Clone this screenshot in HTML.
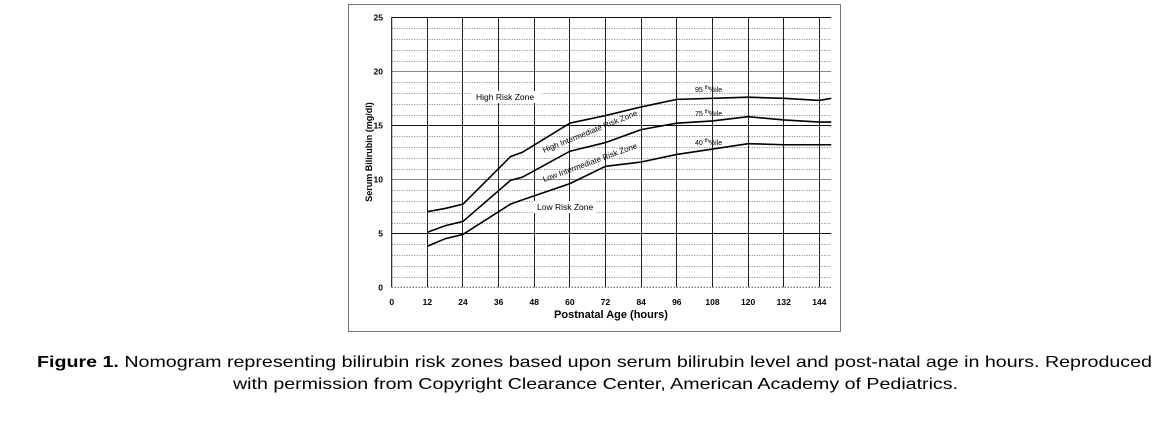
<!DOCTYPE html>
<html><head><meta charset="utf-8"><style>
html,body{margin:0;padding:0;background:#fff;width:1162px;height:425px;overflow:hidden}
svg{display:block}
</style></head><body>
<svg id="s" width="1162" height="425" xmlns="http://www.w3.org/2000/svg" font-family="Liberation Sans, Arial, sans-serif">
<rect x="0" y="0" width="1162" height="425" fill="#fff"/>
<rect x="348.5" y="4.5" width="492" height="327" fill="none" stroke="#777" stroke-width="1"/>
<g id="grid"></g>
<rect x="472" y="91" width="70" height="12" fill="#fff"/>
<rect x="534" y="201" width="62" height="12" fill="#fff"/>
<g id="lines" fill="none" stroke="#000" stroke-width="1.6"></g>
<g font-size="8.5" fill="#000">
<text x="476" y="100">High Risk Zone</text>
<text x="537" y="210">Low Risk Zone</text>
<text x="0" y="0" transform="translate(544,153) rotate(-22)" font-size="8">High Intermediate Risk Zone</text>
<text x="0" y="0" transform="translate(544,182) rotate(-20)" font-size="8">Low Intermediate Risk Zone</text>
<text x="695" y="92" font-size="7">95 <tspan font-size="5" dy="-3">th</tspan><tspan dy="3">%ile</tspan></text>
<text x="695" y="116" font-size="7">75 <tspan font-size="5" dy="-3">th</tspan><tspan dy="3">%ile</tspan></text>
<text x="695" y="145" font-size="7">40 <tspan font-size="5" dy="-3">th</tspan><tspan dy="3">%ile</tspan></text>
</g>
<g id="ticks" font-size="8.5" font-weight="bold" fill="#000"></g>
<text x="611" y="318" font-size="11" font-weight="bold" text-anchor="middle">Postnatal Age (hours)</text>
<text transform="translate(372,152) rotate(-90)" font-size="9" font-weight="bold" text-anchor="middle">Serum Bilirubin (mg/dl)</text>
<text x="37" y="367" font-size="16" textLength="1115" lengthAdjust="spacingAndGlyphs"><tspan font-weight="bold">Figure 1.</tspan> Nomogram representing bilirubin risk zones based upon serum bilirubin level and post-natal age in hours. Reproduced</text>
<text x="233" y="389" font-size="16" textLength="725" lengthAdjust="spacingAndGlyphs">with permission from Copyright Clearance Center, American Academy of Pediatrics.</text>
</svg>
<script>
var X=function(h){return 391.7+h*2.97},Y=function(v){return 287.3-v*10.8};
var ns="http://www.w3.org/2000/svg",g=document.getElementById('grid'),t=document.getElementById('ticks'),L=document.getElementById('lines');
function el(p,tag,a,txt){var e=document.createElementNS(ns,tag);for(var k in a)e.setAttribute(k,a[k]);if(txt!=null)e.textContent=txt;p.appendChild(e);return e}
var x0=X(0),x1=X(148);
for(var v=1;v<=25;v++){var y=Y(v)+0.5|0;y+=0.5;
 if(v%5==0) el(g,'line',{x1:x0,x2:x1,y1:y,y2:y,stroke:(v%10==5)?'#111':'#888','stroke-width':1});
 else el(g,'line',{x1:x0,x2:x1,y1:y,y2:y,stroke:'#555','stroke-width':0.8,'stroke-dasharray':'1,1.5'});}
for(var h=12;h<=144;h+=12){var x=(X(h)|0)+0.5;el(g,'line',{x1:x,x2:x,y1:Y(25),y2:Y(0),stroke:'#222','stroke-width':1});}
el(g,'line',{x1:x0,x2:x0,y1:Y(25),y2:Y(0),stroke:'#000','stroke-width':1});
el(g,'line',{x1:x0,x2:x1,y1:Y(0),y2:Y(0),stroke:'#000','stroke-width':1,'stroke-dasharray':'1,2'});
for(var h=0;h<=144;h+=12)el(t,'text',{x:X(h),y:305,'text-anchor':'middle'},h);
for(var v=0;v<=25;v+=5)el(t,'text',{x:383,y:Y(v)+3,'text-anchor':'end'},v);
var d=[[[12,7.0],[18,7.3],[24,7.7],[40,12.1],[44,12.5],[60,15.2],[72,15.9],[84,16.7],[96,17.4],[108,17.5],[120,17.6],[132,17.5],[144,17.3],[148,17.5]],
[[12,5.1],[18,5.7],[24,6.1],[40,9.9],[44,10.2],[60,12.6],[72,13.4],[84,14.6],[96,15.2],[108,15.4],[120,15.8],[132,15.5],[144,15.3],[148,15.3]],
[[12,3.8],[18,4.5],[24,4.9],[40,7.7],[44,8.1],[60,9.6],[72,11.2],[84,11.6],[96,12.3],[108,12.8],[120,13.3],[132,13.2],[144,13.2],[148,13.2]]];
d.forEach(function(s){el(L,'polyline',{points:s.map(function(p){return X(p[0])+','+Y(p[1])}).join(' ')})});
</script>
</body></html>
